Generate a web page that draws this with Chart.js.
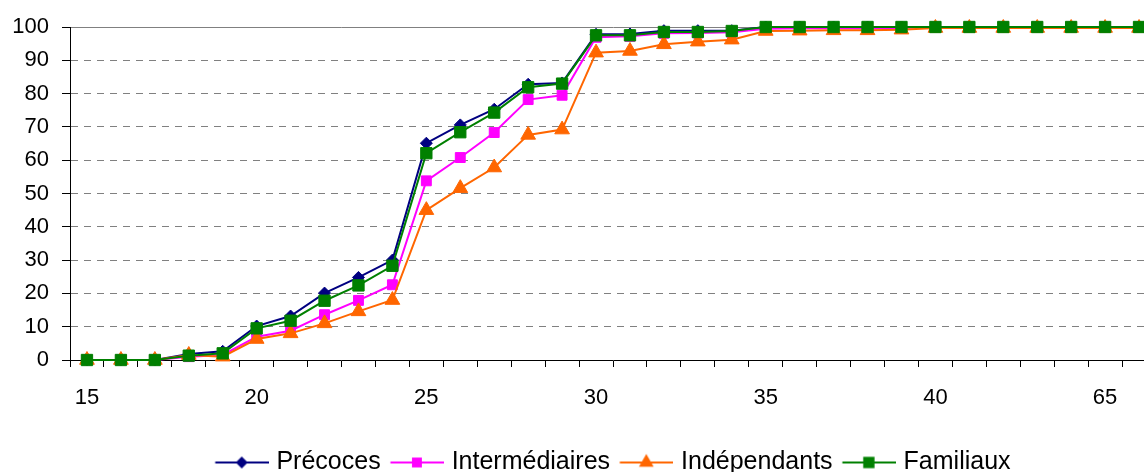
<!DOCTYPE html>
<html>
<head>
<meta charset="utf-8">
<script src="https://cdn.jsdelivr.net/npm/chart.js@4"></script>
<style>
    body { margin: 0; background: #fff; overflow: hidden; }
    #wrap { width: 1144px; height: 472px; overflow: hidden; }
</style>
</head>
<body>
<!-- the original picture is cropped: the plot runs a little past the right edge -->
<div id="wrap"><canvas id="chart1" width="1156" height="472"></canvas></div>
<script>

    /************** DATA **************/
    let ages = [15, 16, 17, 18, 19, 20, 21, 22, 23, 24, 25, 26, 27, 28, 29, 30, 31, 32, 33, 34, 35, 36, 37, 38, 39, 40, 45, 50, 55, 60, 65, 70]

    let precoces = [0, 0, 0, 1.8, 2.6, 10.2, 13.2, 20.1, 24.8, 30.0, 65.1, 70.6, 75.3, 82.8, 83.2, 97.8, 97.9, 98.9, 98.9, 98.9, 100, 100, 100, 100, 100, 100, 100, 100, 100, 100, 100, 100]
    let intermediaires = [0, 0, 0, 1.0, 1.5, 7.0, 8.8, 13.6, 17.9, 22.6, 53.8, 60.8, 68.3, 78.2, 79.5, 96.9, 97.2, 98.1, 98.2, 98.4, 99.5, 99.6, 99.6, 99.6, 99.7, 100, 100, 100, 100, 100, 100, 100]
    let independants = [0, 0, 0, 1.5, 1.0, 6.3, 8.0, 11.0, 14.6, 18.0, 45.0, 51.6, 57.8, 67.6, 69.2, 92.3, 92.8, 94.8, 95.6, 96.2, 98.8, 98.9, 99.0, 99.0, 99.2, 99.7, 99.7, 99.7, 99.7, 99.7, 99.7, 99.7]
    let familiaux = [0, 0, 0, 1.3, 2.0, 9.5, 11.8, 17.8, 22.4, 28.3, 62.1, 68.4, 74.3, 81.9, 83.0, 97.5, 97.5, 98.5, 98.5, 98.8, 100, 100, 100, 100, 100, 100, 100, 100, 100, 100, 100, 100]

    let yTicks = [0, 10, 20, 30, 40, 50, 60, 70, 80, 90, 100]
    let labelEvery = 5 // only every 5th age gets its label on the x axis

    let seriesNames = ['Précoces', 'Intermédiaires', 'Indépendants', 'Familiaux']
    let seriesColors = ['#000080', '#ff00ff', '#ff6600', '#008000']
    let seriesStyles = ['rectRot', 'rect', 'triangle', 'rect']
    let seriesRadius = [6, 7, 8.5, 8]


    /************** LEGEND SYMBOLS (line with marker in the middle) **************/
    function drawMarker(ctx, style, x, y, r, color) {
        ctx.fillStyle = color
        ctx.beginPath()
        if (style == 'rectRot') {
            ctx.moveTo(x - r, y)
            ctx.lineTo(x, y - r)
            ctx.lineTo(x + r, y)
            ctx.lineTo(x, y + r)
        } else if (style == 'triangle') {
            ctx.moveTo(x, y - r)
            ctx.lineTo(x + r * 0.866, y + r * 0.5)
            ctx.lineTo(x - r * 0.866, y + r * 0.5)
        } else {
            let s = r * Math.SQRT1_2
            ctx.rect(x - s, y - s, 2 * s, 2 * s)
        }
        ctx.closePath()
        ctx.fill()
    }

    // canvas is a bit wider than the legend box so the line ends close to the text
    function makeSymbol(i) {
        let c = document.createElement('canvas')
        c.width = 58
        c.height = 22
        let ctx = c.getContext('2d')
        ctx.strokeStyle = seriesColors[i]
        ctx.lineWidth = 2
        ctx.beginPath()
        ctx.moveTo(4.5, 11)
        ctx.lineTo(58, 11)
        ctx.stroke()
        drawMarker(ctx, seriesStyles[i], 31, 11, seriesRadius[i], seriesColors[i])
        return c
    }

    let symbols = seriesNames.map((n, i) => makeSymbol(i))


    /************** CREATING AND DISPLAYING CHART **************/
    let allValues = [precoces, intermediaires, independants, familiaux]

    let datasets = allValues.map((vals, i) => ({
        label: seriesNames[i],
        data: vals,
        borderColor: seriesColors[i],
        backgroundColor: seriesColors[i],
        borderWidth: 2,
        pointStyle: seriesStyles[i],
        pointRadius: seriesRadius[i],
        pointHoverRadius: seriesRadius[i],
        pointBorderWidth: 1,
        pointBackgroundColor: seriesColors[i],
        pointBorderColor: seriesColors[i],
        tension: 0,
        clip: false,
        order: 4 - i // last series drawn on top
    }))

    Chart.defaults.font.family = '"Liberation Sans", Arial, sans-serif'
    Chart.defaults.color = '#000'

    let chart = new Chart(document.getElementById('chart1'), {
        type: 'line',
        data: {
            labels: ages,
            datasets: datasets
        },
        options: {
            responsive: false,
            animation: false,
            layout: {
                autoPadding: false,
                padding: { top: 27, right: 0, left: 0, bottom: -13 }
            },
            plugins: {
                tooltip: { enabled: false },
                legend: {
                    position: 'bottom',
                    fullSize: false,
                    labels: {
                        font: { size: 25 },
                        color: '#000',
                        padding: 10,
                        usePointStyle: true,
                        pointStyleWidth: 48.5,
                        sort: (a, b) => a.datasetIndex - b.datasetIndex,
                        generateLabels: function(ch) {
                            let items = Chart.defaults.plugins.legend.labels.generateLabels(ch)
                            items.forEach(it => { it.pointStyle = symbols[it.datasetIndex] })
                            return items
                        }
                    }
                }
            },
            scales: {
                x: {
                    offset: true,
                    grid: {
                        display: true,
                        drawOnChartArea: false,
                        drawTicks: true,
                        tickLength: 7,
                        offset: true,
                        tickColor: '#000'
                    },
                    border: { display: true, color: '#000', width: 1 },
                    ticks: {
                        autoSkip: false,
                        maxRotation: 0,
                        padding: 18,
                        font: { size: 22 },
                        callback: function(value, index) {
                            return index % labelEvery == 0 ? this.getLabelForValue(value) : ''
                        }
                    },
                    afterFit: function(scale) {
                        scale.height = 80
                        scale.paddingLeft = 0
                        scale.paddingRight = 0
                    }
                },
                x2: {
                    position: 'top',
                    type: 'category',
                    offset: true,
                    grid: { display: false, drawTicks: false },
                    ticks: { display: false },
                    border: { display: true, color: '#808080', width: 1 },
                    afterFit: function(scale) {
                        scale.height = 0
                        scale.paddingLeft = 0
                        scale.paddingRight = 0
                    }
                },
                y: {
                    min: 0,
                    max: 100,
                    afterBuildTicks: function(scale) {
                        scale.ticks = yTicks.map(v => ({ value: v }))
                    },
                    grid: {
                        color: '#808080',
                        lineWidth: 1,
                        drawTicks: true,
                        tickLength: 8,
                        tickColor: '#000',
                        tickBorderDash: []
                    },
                    border: { display: true, color: '#000', width: 1, dash: [7, 6] },
                    ticks: {
                        padding: 13,
                        font: { size: 22 }
                    },
                    afterFit: function(scale) { scale.width = 70 }
                }
            }
        }
    })

</script>
</body>
</html>
